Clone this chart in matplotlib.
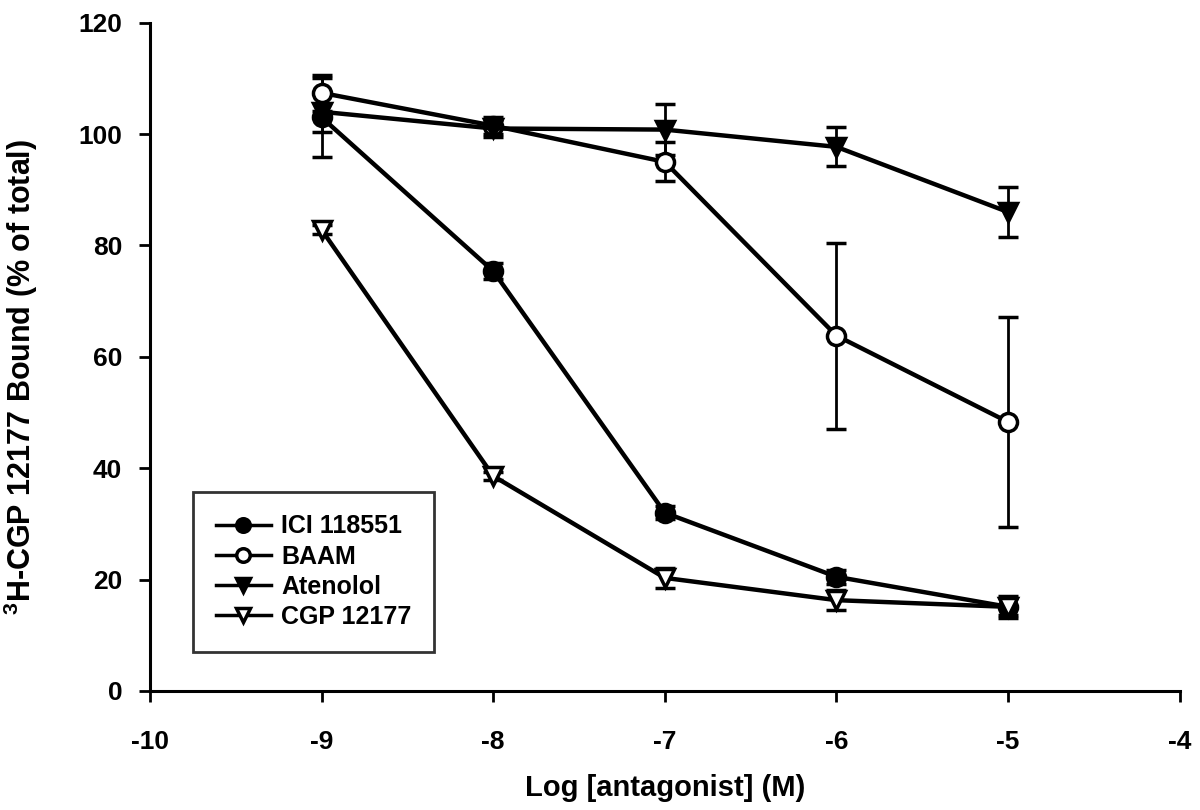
#!/usr/bin/env python

import matplotlib
matplotlib.use('Agg')
import matplotlib.pyplot as plt

plt.rcParams['font.family'] = ['Liberation Sans', 'DejaVu Sans']
plt.rcParams['font.weight'] = 'bold'
plt.rcParams['mathtext.fontset'] = 'custom'
plt.rcParams['mathtext.rm'] = 'Liberation Sans:bold'
plt.rcParams['mathtext.bf'] = 'Liberation Sans:bold'
plt.rcParams['axes.unicode_minus'] = False

log_conc = [-9, -8, -7, -6, -5]

ici_mean = [103.0, 75.4, 32.0, 20.5, 15.1]
ici_err = [7.1, 1.5, 1.2, 1.3, 1.5]

baam_mean = [107.4, 101.5, 95.0, 63.8, 48.3]
baam_err = [3.2, 1.5, 3.5, 16.7, 18.9]

atenolol_mean = [104.0, 101.0, 100.8, 97.7, 86.0]
atenolol_err = [3.6, 1.5, 4.6, 3.5, 4.5]

cgp_mean = [82.8, 38.6, 20.3, 16.3, 15.1]
cgp_err = [0.8, 0.8, 1.8, 1.8, 2.0]

series = [
    ('ICI 118551', ici_mean, ici_err, 'o', 'black'),
    ('BAAM', baam_mean, baam_err, 'o', 'white'),
    ('Atenolol', atenolol_mean, atenolol_err, 'v', 'black'),
    ('CGP 12177', cgp_mean, cgp_err, 'v', 'white'),
]


def plot_chart(file_name):
    fig = plt.figure(figsize=(12, 8.1), dpi=100)
    ax = fig.add_axes([0.125, 0.147, 0.858, 0.825])
    handles = []
    for label, mean, err, marker, face in series:
        ax.errorbar(log_conc, mean, yerr=err, fmt='none', ecolor='black',
                    elinewidth=2.0, capsize=7, capthick=2.5, zorder=2)
        line, = ax.plot(log_conc, mean, color='black', linewidth=3.2,
                        marker=marker, markersize=13, markerfacecolor=face,
                        markeredgecolor='black', markeredgewidth=2.5,
                        label=label, zorder=3)
        handles.append(line)

    ax.set_xlim(-10, -4)
    ax.set_ylim(0, 120)
    ax.set_xticks(range(-10, -3))
    ax.set_yticks(range(0, 121, 20))
    for side in ['top', 'right']:
        ax.spines[side].set_visible(False)
    for side in ['left', 'bottom']:
        ax.spines[side].set_linewidth(2.2)
    ax.tick_params(direction='out', length=8, width=2, labelsize=19)
    ax.tick_params(axis='x', pad=20)
    ax.tick_params(axis='y', pad=12)
    for tick in ax.get_xticklabels() + ax.get_yticklabels():
        tick.set_fontweight('bold')

    ax.set_xlabel('Log [antagonist] (M)', fontsize=21, fontweight='bold')
    ax.xaxis.set_label_coords(0.5, -0.125)
    ax.set_ylabel(r'$^{3}$H-CGP 12177 Bound (% of total)', fontsize=22,
                  fontweight='bold')
    ax.yaxis.set_label_coords(-0.107, 0.47)

    leg = ax.legend(handles=handles, loc='lower left',
                    bbox_to_anchor=(0.03, 0.04), fontsize=18,
                    frameon=True, fancybox=False, edgecolor='black',
                    handlelength=2.2, handletextpad=0.4, labelspacing=0.25,
                    borderpad=0.9, markerscale=0.75)
    leg.get_frame().set_linewidth(2.0)
    for text in leg.get_texts():
        text.set_fontweight('bold')
    for line in leg.get_lines():
        line.set_linewidth(2.5)

    fig.savefig(file_name, dpi=100)


if __name__ == '__main__':
    plot_chart('out.png')
